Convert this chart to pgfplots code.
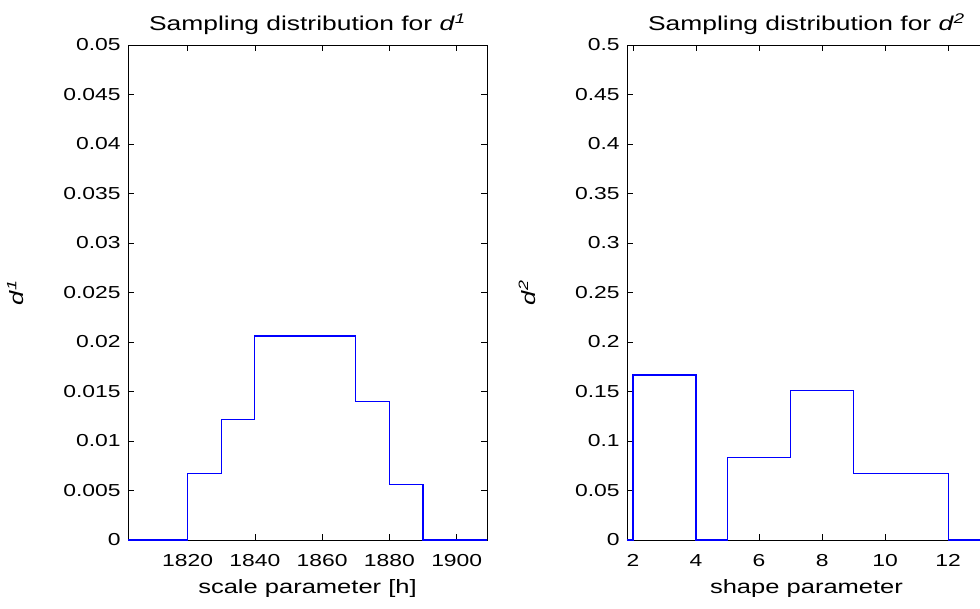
\documentclass[border=0pt]{standalone}
\usepackage{pgfplots}
\pgfplotsset{compat=1.18}
\usepackage{fontspec}
\setmainfont[FakeStretch=1.32]{Liberation Sans}
\begin{document}
\begin{tikzpicture}
\useasboundingbox (0,0) rectangle (735pt,456pt);
\clip (0,0) rectangle (735pt,456pt);
\pgfplotsset{
  every axis/.append style={
    scale only axis,
    width=269.25pt, height=371.25pt,
    anchor=south west,
    font=\fontsize{13}{15}\selectfont,
    tick align=inside,
    major tick length=4.5pt,
    axis line style={black, line width=0.7pt},
    tick style={black, line width=0.5pt},
    /pgf/number format/assume math mode=true,
    /pgf/number format/fixed,
    /pgf/number format/precision=3,
    scaled y ticks=false,
    scaled x ticks=false,
    xticklabel style={yshift=-7.5pt},
    yticklabel style={xshift=-2pt},
    title style={font=\fontsize{15}{17}\selectfont, yshift=-1.5pt},
    xlabel style={font=\fontsize{14.5}{16}\selectfont, yshift=-2.5pt},
    ylabel style={font=\fontsize{14.5}{16}\selectfont, yshift=23pt},
  },
}
\begin{axis}[
  at={(96pt,51pt)},
  xmin=1802.3, xmax=1909,
  ymin=0, ymax=0.05,
  xtick={1820,1840,1860,1880,1900},
  ytick={0,0.005,0.01,0.015,0.02,0.025,0.03,0.035,0.04,0.045,0.05},
  xticklabel style={/pgf/number format/1000 sep={}},
  title={Sampling distribution for \textit{d}\textsuperscript{\textit{1}}},
  xlabel={scale parameter [h]},
  ylabel={\textit{d}\textsuperscript{\textit{1}}},
]
\addplot[color={rgb,255:red,0;green,0;blue,255}, line width=0.9pt, const plot] coordinates {
(1800,0) (1820,0.0067) (1830,0.0122) (1840,0.0206) (1870,0.0140) (1880,0.0056) (1890,0) (1910,0)
};
\end{axis}
\begin{axis}[
  at={(470.25pt,51pt)},
  xmin=1.81, xmax=13.2,
  ymin=0, ymax=0.5,
  xtick={2,4,6,8,10,12},
  ytick={0,0.05,0.1,0.15,0.2,0.25,0.3,0.35,0.4,0.45,0.5},
  title={Sampling distribution for \textit{d}\textsuperscript{\textit{2}}},
  xlabel={shape parameter},
  ylabel={\textit{d}\textsuperscript{\textit{2}}},
]
\addplot[color={rgb,255:red,0;green,0;blue,255}, line width=0.9pt, const plot] coordinates {
(1.7,0) (2,0.1667) (4,0) (5,0.0833) (7,0.1510) (9,0.0675) (12,0) (14,0)
};
\end{axis}
\end{tikzpicture}
\end{document}
